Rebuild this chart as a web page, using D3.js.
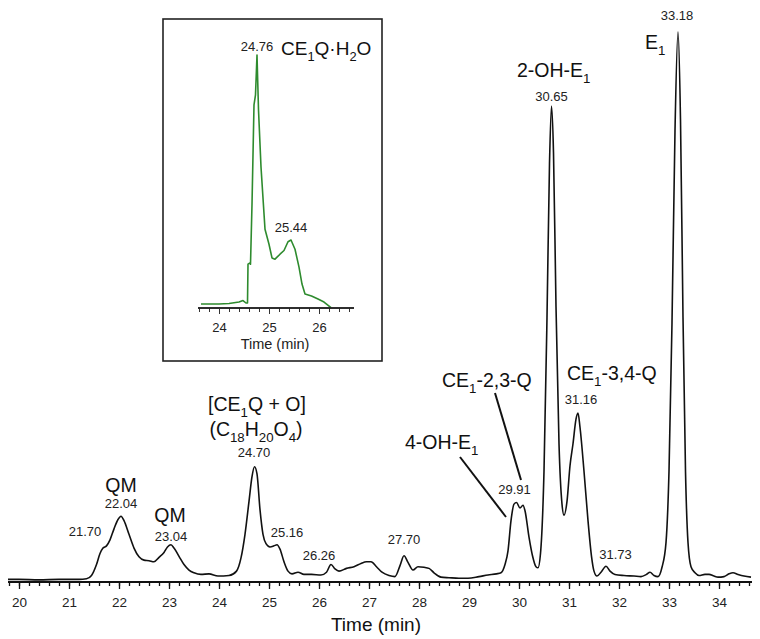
<!DOCTYPE html>
<html>
<head>
<meta charset="utf-8">
<script src="https://cdn.jsdelivr.net/npm/d3@7"></script>
<style>
  body { margin: 0; background: #fff; }
  svg { display: block; font-family: "Liberation Sans", Arial, sans-serif; }
</style>
</head>
<body>
<div id="chart"></div>
<script>
// main chromatogram: retention time (min) and relative intensity (%)
var mainTime = [19.78, 20.0, 20.4, 20.8, 21.2, 21.35, 21.45, 21.55, 21.62, 21.68, 21.75, 21.82, 21.9, 21.98, 22.04,
  22.1, 22.2, 22.3, 22.4, 22.5, 22.6, 22.7, 22.8, 22.9, 22.97, 23.04, 23.1, 23.2, 23.3, 23.4, 23.5, 23.64, 23.8,
  23.98, 24.2, 24.35, 24.44, 24.52, 24.6, 24.66, 24.71, 24.76, 24.82, 24.88, 24.94, 25.02, 25.1, 25.16, 25.22,
  25.3, 25.38, 25.46, 25.58, 25.7, 25.85, 26.04, 26.15, 26.24, 26.32, 26.4, 26.55, 26.7, 26.84, 26.95, 27.04,
  27.15, 27.26, 27.4, 27.52, 27.62, 27.7, 27.78, 27.88, 27.98, 28.1, 28.2, 28.3, 28.44, 28.6, 28.8, 28.98, 29.2,
  29.38, 29.55, 29.64, 29.72, 29.78, 29.84, 29.9, 29.95, 30.02, 30.08, 30.12, 30.2, 30.27, 30.34, 30.38, 30.43,
  30.5, 30.56, 30.61, 30.65, 30.69, 30.74, 30.8, 30.86, 30.9, 30.96, 31.02, 31.08, 31.14, 31.18, 31.22, 31.3,
  31.38, 31.45, 31.5, 31.56, 31.64, 31.74, 31.82, 31.92, 32.1, 32.3, 32.44, 32.55, 32.62, 32.7, 32.78, 32.86,
  32.94, 33.0, 33.06, 33.12, 33.18, 33.23, 33.28, 33.33, 33.38, 33.44, 33.52, 33.6, 33.72, 33.8, 33.9, 33.98,
  34.1, 34.2, 34.28, 34.38, 34.5, 34.64];
var mainIntensity = [0.3, 0.3, 0.2, 0.3, 0.3, 0.4, 1.0, 3.0, 5.0, 6.0, 6.4, 7.5, 9.5, 11.2, 11.8,
  11.0, 8.5, 6.0, 4.4, 3.8, 3.7, 3.5, 4.3, 5.2, 6.2, 6.6, 6.0, 4.5, 3.0, 2.0, 1.5, 1.2, 1.3,
  0.9, 1.0, 1.8, 4.2, 8.5, 14.5, 19.0, 20.8, 19.5, 13.0, 8.5, 6.8, 6.2, 6.4, 6.6, 5.8,
  3.5, 1.8, 1.3, 1.6, 1.2, 1.2, 1.1, 1.6, 3.0, 2.2, 1.8, 2.3, 2.6, 3.2, 3.5, 3.5,
  2.6, 1.6, 1.0, 0.8, 2.8, 4.6, 3.4, 2.0, 2.6, 2.5, 2.3, 1.5, 0.7, 0.6, 0.5, 0.5, 0.8,
  1.1, 1.3, 1.5, 3.0, 5.5, 11.0, 14.0, 14.3, 13.3, 13.8, 12.8, 8.0, 4.6, 2.6, 2.4, 5.0,
  20, 48, 76, 86.5, 78, 50, 25, 14, 12.0, 14.5, 21, 25, 29.5, 30.6, 28, 20,
  11, 4.5, 1.8, 0.9, 1.6, 2.7, 1.8, 1.2, 1.0, 0.9, 0.8, 1.2, 1.6, 1.0, 0.8, 2.5,
  7.0, 20, 47, 82, 100, 84, 48, 20, 7, 2.6, 1.5, 1.0, 1.2, 1.2, 0.9, 0.7,
  0.8, 1.3, 1.5, 1.2, 0.9, 0.7];

// inset (CE1Q·H2O trace)
var insetTime = [23.64, 24.0, 24.2, 24.4, 24.48, 24.54, 24.57, 24.58, 24.62, 24.63, 24.66, 24.7, 24.73, 24.76,
  24.79, 24.84, 24.92, 25.0, 25.06, 25.12, 25.22, 25.3, 25.38, 25.44, 25.52, 25.6, 25.66, 25.72, 25.85, 25.98,
  26.1, 26.24];
var insetIntensity = [0, 0, 0.2, 0.8, 1.4, 0.4, 0.4, 16, 16.5, 16, 40, 80, 84, 100,
  78, 55, 30, 24, 18.5, 18, 20, 21.5, 25, 25.7, 22, 14.8, 8, 4, 3.2, 2.0,
  0.8, -1.5];

var majorTicks = [20, 21, 22, 23, 24, 25, 26, 27, 28, 29, 30, 31, 32, 33, 34];
var insetMajorTicks = [24, 25, 26];

// peak labels: [time, intensity at the label, text]
var peakLabels = [
  [21.70, 6.4, "21.70"], [22.04, 11.8, "22.04"], [23.04, 6.6, "23.04"], [24.70, 20.8, "24.70"],
  [25.16, 6.6, "25.16"], [26.26, 3.0, "26.26"], [27.70, 4.6, "27.70"], [29.91, 14.3, "29.91"],
  [30.65, 86.5, "30.65"], [31.16, 30.6, "31.16"], [31.73, 2.7, "31.73"], [33.18, 100, "33.18"]
];
var compoundNames = ["QM", "QM", "[CE_{1}Q + O]", "(C_{18}H_{20}O_{4})", "4-OH-E_{1}", "CE_{1}-2,3-Q",
  "2-OH-E_{1}", "CE_{1}-3,4-Q", "E_{1}"];
var insetLabels = [[24.76, "24.76"], [25.44, "25.44"]];
var insetName = "CE_{1}Q·H_{2}O";

var W = 760, H = 639;
var svg = d3.select("#chart").append("svg").attr("width", W).attr("height", H);

var x = d3.scaleLinear().domain([19.78, 34.66]).range([8, 752]);
var y = d3.scaleLinear().domain([0, 100]).range([581, 32]);

// write text with _{..} subscripts
function richText(t, str, size)
{
	var parts = str.split(/(_\{[^}]*\})/).filter(function(p){ return p.length; });
	var shift = 0;
	parts.forEach(function(p)
	{
		if (p.indexOf("_{") === 0)
		{
			t.append("tspan").attr("font-size", size * 0.68).attr("dy", size * 0.32 - shift).text(p.slice(2, -1));
			shift = size * 0.32;
		}
		else
		{
			t.append("tspan").attr("font-size", size).attr("dy", -shift).text(p);
			shift = 0;
		}
	});
}

// ----- main trace
var line = d3.line()
	.x(function(d){ return x(d[0]); })
	.y(function(d){ return y(d[1]); })
	.curve(d3.curveMonotoneX);

svg.append("path")
	.datum(d3.zip(mainTime, mainIntensity))
	.attr("d", line)
	.attr("fill", "none")
	.attr("stroke", "#111")
	.attr("stroke-width", 1.6)
	.attr("stroke-linejoin", "round");

// ----- main axis
var axisY = 582;
var gMinor = svg.append("g").attr("transform", "translate(0," + axisY + ")")
	.call(d3.axisBottom(x).tickValues(d3.range(19.8, 34.7, 0.2)).tickSize(4).tickFormat(""));
var gMajor = svg.append("g").attr("transform", "translate(0," + axisY + ")")
	.call(d3.axisBottom(x).tickValues(majorTicks).tickSize(7).tickPadding(8).tickFormat(d3.format("d")));
[gMinor, gMajor].forEach(function(g)
{
	g.select(".domain").attr("stroke", "#111").attr("stroke-width", 2).attr("d", "M8,0H752");
	g.selectAll(".tick line").attr("stroke", "#111").attr("stroke-width", 1.3);
});
gMajor.selectAll(".tick text").attr("font-size", 13.5).attr("fill", "#222").attr("font-family", "Liberation Sans, Arial, sans-serif");

svg.append("text").attr("x", 376).attr("y", 631).attr("text-anchor", "middle")
	.attr("font-size", 19).attr("fill", "#111").text("Time (min)");

// ----- peak labels (offset from each apex)
var labelOffset = {"21.70": [-19, 10], "22.04": [0, 8], "23.04": [0, 4], "24.70": [0, 10], "25.16": [10, 8],
	"26.26": [-13, 5], "27.70": [0, 12], "29.91": [0, 8], "30.65": [0, 5], "31.16": [4, 9], "31.73": [10, 7], "33.18": [-1, 12]};
svg.selectAll("text.peak")
	.data(peakLabels)
	.enter()
	.append("text")
	.attr("class", "peak")
	.attr("x", function(d){ return x(d[0]) + labelOffset[d[2]][0]; })
	.attr("y", function(d){ return y(d[1]) - labelOffset[d[2]][1]; })
	.attr("text-anchor", "middle")
	.attr("font-size", 13)
	.attr("fill", "#222")
	.text(function(d){ return d[2]; });

// compound names: [x, baseline, anchor]
var namePos = [[121, 492, "middle"], [170, 522, "middle"], [257, 411, "middle"], [256, 436, "middle"],
	[405, 449, "start"], [442, 387, "start"], [517, 77, "start"], [567, 380, "start"], [645, 49, "start"]];
compoundNames.forEach(function(n, i)
{
	var t = svg.append("text")
		.attr("x", namePos[i][0]).attr("y", namePos[i][1])
		.attr("text-anchor", namePos[i][2])
		.attr("fill", "#111");
	richText(t, n, 19.5);
});

// leader lines
svg.append("line").attr("x1", 460).attr("y1", 457).attr("x2", 506).attr("y2", 517)
	.attr("stroke", "#111").attr("stroke-width", 2);
svg.append("line").attr("x1", 495).attr("y1", 393).attr("x2", 521).attr("y2", 480)
	.attr("stroke", "#111").attr("stroke-width", 2);

// ----- inset
svg.append("rect").attr("x", 163).attr("y", 19).attr("width", 219).attr("height", 342)
	.attr("fill", "#fff").attr("stroke", "#222").attr("stroke-width", 1.6);

var xi = d3.scaleLinear().domain([23.58, 26.7]).range([198, 354]);
var yi = d3.scaleLinear().domain([0, 100]).range([304, 55]);

svg.append("path")
	.datum(d3.zip(insetTime, insetIntensity))
	.attr("d", d3.line().x(function(d){ return xi(d[0]); }).y(function(d){ return yi(d[1]); }))
	.attr("fill", "none")
	.attr("stroke", "#2e8b2e")
	.attr("stroke-width", 1.6)
	.attr("stroke-linejoin", "round");

var iAxisY = 308;
var giMinor = svg.append("g").attr("transform", "translate(0," + iAxisY + ")")
	.call(d3.axisBottom(xi).tickValues(d3.range(23.6, 26.7, 0.2)).tickSize(4).tickFormat(""));
var giMajor = svg.append("g").attr("transform", "translate(0," + iAxisY + ")")
	.call(d3.axisBottom(xi).tickValues(insetMajorTicks).tickSize(6).tickPadding(9).tickFormat(d3.format("d")));
[giMinor, giMajor].forEach(function(g)
{
	g.select(".domain").attr("stroke", "#222").attr("stroke-width", 1.5).attr("d", "M198,0H354");
	g.selectAll(".tick line").attr("stroke", "#333").attr("stroke-width", 1);
});
giMajor.selectAll(".tick text").attr("font-size", 13).attr("fill", "#222").attr("font-family", "Liberation Sans, Arial, sans-serif");

svg.append("text").attr("x", 275).attr("y", 349).attr("text-anchor", "middle")
	.attr("font-size", 14.5).attr("fill", "#222").text("Time (min)");

var insetOffset = {"24.76": [0, 100, 4], "25.44": [0, 25.7, 8]};
svg.selectAll("text.ipeak")
	.data(insetLabels)
	.enter()
	.append("text")
	.attr("class", "ipeak")
	.attr("x", function(d){ return xi(d[0]); })
	.attr("y", function(d){ return yi(insetOffset[d[1]][1]) - insetOffset[d[1]][2]; })
	.attr("text-anchor", "middle")
	.attr("font-size", 13)
	.attr("fill", "#222")
	.text(function(d){ return d[1]; });

var tn = svg.append("text").attr("x", 281).attr("y", 55).attr("fill", "#111");
richText(tn, insetName, 19);
</script>
</body>
</html>
